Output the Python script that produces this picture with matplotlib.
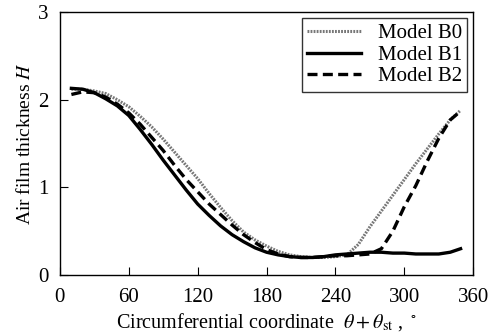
import matplotlib
matplotlib.use("Agg")
import matplotlib.pyplot as plt
import numpy as np

# circumferential coordinate (deg)
theta = [10, 20, 30, 40, 50, 60, 70, 80, 90, 100, 110, 120, 130, 140, 150, 160, 170, 180,
         190, 200, 210, 220, 230, 240, 250, 260, 270, 280, 290, 300, 310, 320, 330, 340, 349]

h_b0 = [2.12, 2.12, 2.10, 2.07, 2.00, 1.92, 1.81, 1.69, 1.55, 1.40, 1.25, 1.10, 0.93, 0.77,
        0.62, 0.49, 0.40, 0.33, 0.27, 0.23, 0.21, 0.20, 0.20, 0.21, 0.23, 0.35, 0.55, 0.73,
        0.91, 1.09, 1.27, 1.44, 1.61, 1.77, 1.88]
h_b1 = [2.13, 2.12, 2.08, 2.01, 1.93, 1.82, 1.66, 1.49, 1.31, 1.14, 0.97, 0.81, 0.68, 0.56,
        0.46, 0.38, 0.31, 0.26, 0.23, 0.21, 0.20, 0.20, 0.21, 0.23, 0.24, 0.25, 0.26, 0.26,
        0.25, 0.25, 0.24, 0.24, 0.24, 0.26, 0.30]
h_b2 = [2.06, 2.09, 2.08, 2.03, 1.95, 1.85, 1.72, 1.57, 1.42, 1.25, 1.09, 0.95, 0.81, 0.69,
        0.57, 0.46, 0.37, 0.29, 0.24, 0.21, 0.20, 0.20, 0.21, 0.22, 0.22, 0.23, 0.24, 0.30,
        0.50, 0.78, 1.02, 1.30, 1.56, 1.77, 1.87]

labels = ["Model B0", "Model B1", "Model B2"]

plt.rcParams["font.family"] = "Liberation Serif"
plt.rcParams["mathtext.fontset"] = "stix"

fig = plt.figure(figsize=(4.95, 3.36), dpi=100)
ax = fig.add_axes([0.121, 0.1815, 0.835, 0.7825])

ax.plot(theta, h_b0, color="#777777", lw=2.2, ls=(0, (0.6, 0.4)), label=labels[0])
ax.plot(theta, h_b1, color="black", lw=2.4, ls="-", label=labels[1])
ax.plot(theta, h_b2, color="black", lw=2.4, ls=(0, (3, 1.6)), label=labels[2])

ax.set_xlim(0, 360)
ax.set_ylim(0, 3)
ax.set_xticks(np.arange(0, 361, 60))
ax.set_yticks([0, 1, 2, 3])
ax.tick_params(direction="in", length=6, width=0.8, labelsize=15, top=False, right=False)
ax.tick_params(axis="x", pad=9)
ax.tick_params(axis="y", pad=8)
for s in ax.spines.values():
    s.set_linewidth(1.0)

ax.set_xlabel(r"Circumferential coordinate  $\theta+\theta_{\rm st}$ , $^\circ$",
              fontsize=14.5, labelpad=3)
ax.set_ylabel(r"Air film thickness $H$", fontsize=14, labelpad=3)

leg = ax.legend(loc="upper right", fontsize=15, frameon=True, fancybox=False,
                edgecolor="black", handlelength=2.6, handletextpad=0.8,
                borderaxespad=0.3, labelspacing=0.1, borderpad=0.25)
leg.get_frame().set_linewidth(1.0)

fig.savefig("out.png", dpi=100)
